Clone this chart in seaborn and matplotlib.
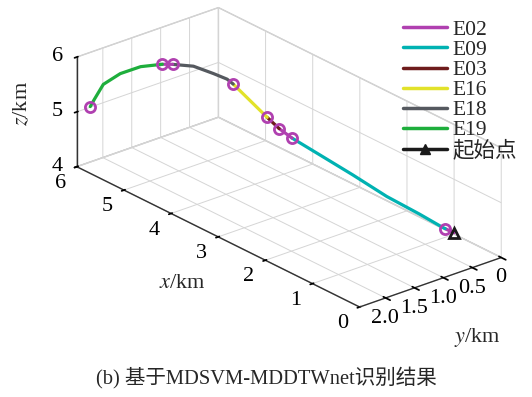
import numpy as np
import pandas as pd
import matplotlib
matplotlib.use("Agg")
import matplotlib.pyplot as plt
import seaborn as sns
from matplotlib.lines import Line2D
from matplotlib.transforms import ScaledTranslation

# ---- data (km) ----
x_km = [0.94, 1.08, 1.14, 1.48, 2.00, 2.54, 3.05, 3.47, 3.67, 3.85, 4.10, 4.35,
        4.43, 4.62, 4.90, 5.17, 5.29, 5.53, 5.74, 5.88, 5.95, 5.96]
y_km = [0.05, 0.09, 0.11, 0.21, 0.35, 0.50, 0.65, 0.79, 0.85, 0.91, 1.00, 1.09,
        1.13, 1.21, 1.33, 1.47, 1.55, 1.73, 1.91, 2.09, 2.19, 2.25]
z_km = [4.07, 4.10, 4.12, 4.24, 4.39, 4.61, 4.81, 4.99, 5.10, 5.25, 5.48, 5.71,
        5.78, 5.83, 5.89, 5.86, 5.84, 5.76, 5.61, 5.42, 5.15, 5.04]
# segments: (class, first index, last index)
seg_class = ["E02", "E09", "E02", "E03", "E16", "E18", "E02", "E19"]
seg_start = [0, 1, 7, 8, 9, 11, 15, 16]
seg_end = [1, 7, 8, 9, 11, 15, 16, 21]
boundary_idx = [1, 7, 8, 9, 11, 15, 16, 21]

legend_classes = ["E02", "E09", "E03", "E16", "E18", "E19"]
class_colors = ["#B040B0", "#00B2B2", "#6E1C1C", "#E2E22A", "#55595F", "#1EAE3C"]
start_label = "起始点"

x_ticks = [0, 1, 2, 3, 4, 5, 6]
y_ticks = [0, 0.5, 1.0, 1.5, 2.0]
y_ticklabels = ["0", "0.5", "1.0", "1.5", "2.0"]
z_ticks = [4, 5, 6]
caption = "(b) 基于MDSVM-MDDTWnet识别结果"

sns.set_theme(style="white")
plt.rcParams["font.family"] = ["Liberation Serif", "Noto Sans CJK SC"]
plt.rcParams["mathtext.fontset"] = "stix"
plt.rcParams["grid.color"] = "#D5D5D5"
plt.rcParams["grid.linewidth"] = 0.7

palette = dict(zip(legend_classes, sns.color_palette(class_colors)))
df = pd.DataFrame({"x": x_km, "y": y_km, "z": z_km})

fig = plt.figure(figsize=(5.32, 3.97), dpi=100)
ax = fig.add_axes([0.023, 0.08, 1.02, 1.02], projection="3d")
ax.set_proj_type("ortho")
ax.view_init(elev=24.6, azim=140)
ax.set_xlim(0, 6)
ax.set_ylim(0, 2.45)
ax.set_zlim(4, 6)
ax.set_box_aspect((445, 187, 122), zoom=1.18)

for c, s, e in zip(seg_class, seg_start, seg_end):
    part = df.iloc[s:e + 1]
    ax.plot(part["x"], part["y"], part["z"], color=palette[c], lw=2.3, solid_capstyle="round")

bd = df.iloc[boundary_idx]
ax.plot(bd["x"], bd["y"], bd["z"], ls="none", marker="o", ms=7.3, mfc="none",
        mec=palette["E02"], mew=2.0)
ax.plot([df["x"][0]], [df["y"][0]], [df["z"][0]], ls="none", marker="^", ms=7,
        mfc="none", mec="k", mew=2.0)

ax.set_xticks(x_ticks)
ax.set_yticks(y_ticks)
ax.set_yticklabels(y_ticklabels)
ax.set_zticks(z_ticks)
ax.zaxis.set_ticks_position("upper")
ax.zaxis.set_label_position("upper")
for axis in (ax.xaxis, ax.yaxis, ax.zaxis):
    axis.set_pane_color((1, 1, 1, 1))
    axis.pane.set_edgecolor("#C8C8C8")
    axis.line.set_color("#333333")
    axis.line.set_linewidth(1.0)
ax.tick_params(labelsize=16, colors="black")
ax.grid(True)


def nudge_ticklabels(axis, dx_px, dy_px):
    """Shift an axis' tick labels on screen (pixels, y downward)."""
    orig = axis.get_major_ticks
    off = ScaledTranslation(dx_px / 100, -dy_px / 100, fig.dpi_scale_trans)

    def get_major_ticks(numticks=None):
        ticks = orig(numticks)
        for t in ticks:
            t.label1.set_transform(ax.transData + off)
            t.label2.set_transform(ax.transData + off)
        return ticks

    axis.get_major_ticks = get_major_ticks


nudge_ticklabels(ax.xaxis, -6, -5)
nudge_ticklabels(ax.yaxis, -22, -8)
nudge_ticklabels(ax.zaxis, 13, -3)

fig.text(0.043, 0.74, "$z$/km", rotation=90, fontsize=16, ha="center", va="center")
fig.text(0.342, 0.287, "$x$/km", fontsize=16, ha="center", va="center")
fig.text(0.898, 0.149, "$y$/km", fontsize=16, ha="center", va="center")

handles = [Line2D([0], [0], color=palette[c], lw=2.5) for c in legend_classes]
handles.append(Line2D([0], [0], color="k", lw=2.5, marker="^", ms=7, mfc="k"))
fig.legend(handles, legend_classes + [start_label], loc="upper left",
           bbox_to_anchor=(0.757, 0.95), frameon=False, fontsize=15.5,
           handlelength=2.05, handletextpad=0.25, labelspacing=0.0, borderpad=0,
           borderaxespad=0)

fig.text(0.5, 0.048, caption, fontsize=14.8, ha="center", va="center")
fig.savefig("out.png", dpi=100)
